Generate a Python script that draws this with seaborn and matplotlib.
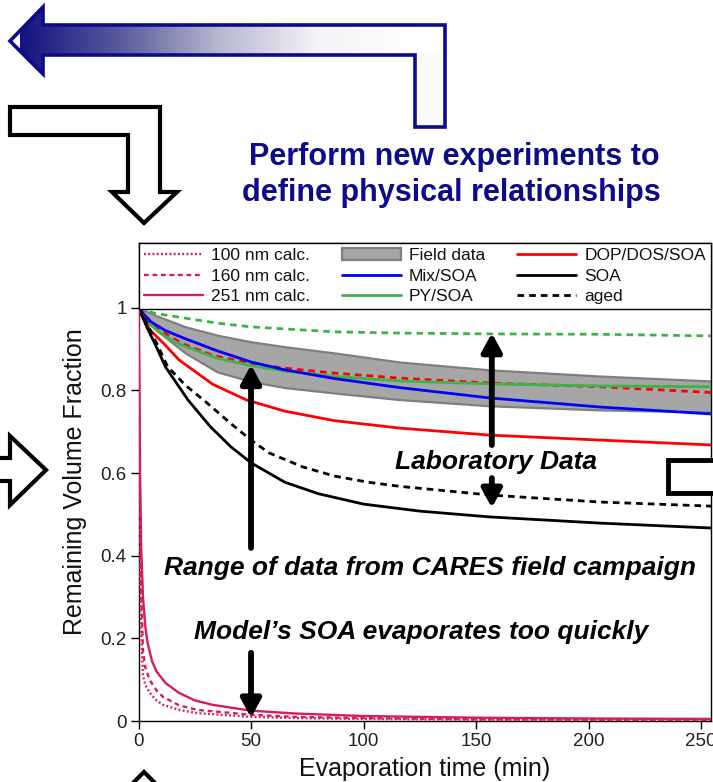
import numpy as np
import pandas as pd
import matplotlib
matplotlib.use("Agg")
import matplotlib.pyplot as plt
import seaborn as sns
from matplotlib.lines import Line2D
from matplotlib.patches import Patch, Polygon, Rectangle
from matplotlib.colors import LinearSegmentedColormap

# ---------------- data ----------------
t_soa = [0, 4, 8, 12, 22, 32, 41, 50, 65, 80, 100, 125, 156, 205, 255]
v_soa = [1, 0.95, 0.905, 0.857, 0.777, 0.712, 0.664, 0.625, 0.578, 0.550, 0.525, 0.508, 0.494, 0.479, 0.467]

t_aged = [0, 4, 8, 13, 21, 30, 41, 50, 58, 73, 87, 102, 116, 156, 205, 255]
v_aged = [1, 0.96, 0.915, 0.857, 0.812, 0.772, 0.72, 0.68, 0.649, 0.615, 0.593, 0.578, 0.568, 0.547, 0.530, 0.520]

t_dop = [0, 5, 11, 18, 33, 48, 65, 87, 116, 156, 205, 255]
v_dop = [1, 0.947, 0.915, 0.874, 0.815, 0.777, 0.750, 0.727, 0.709, 0.692, 0.680, 0.668]

t_dop_aged = [0, 5, 11, 20, 33, 50, 65, 87, 116, 156, 205, 255]
v_dop_aged = [1, 0.97, 0.94, 0.912, 0.885, 0.865, 0.854, 0.842, 0.830, 0.818, 0.809, 0.795]

t_mix = [0, 5, 12, 20, 35, 50, 65, 87, 116, 156, 205, 255]
v_mix = [1, 0.968, 0.945, 0.927, 0.896, 0.869, 0.850, 0.829, 0.807, 0.782, 0.760, 0.743]

t_py = [0, 5, 12, 20, 35, 50, 65, 87, 116, 156, 205, 255]
v_py = [1, 0.96, 0.93, 0.908, 0.878, 0.860, 0.847, 0.834, 0.823, 0.816, 0.811, 0.809]

t_py_aged = [0, 7, 21, 35, 50, 65, 87, 116, 156, 205, 255]
v_py_aged = [1, 0.987, 0.975, 0.963, 0.954, 0.949, 0.942, 0.939, 0.937, 0.936, 0.932]

t_field = [0, 7, 21, 35, 50, 65, 87, 116, 156, 205, 255]
v_field_hi = [1, 0.983, 0.954, 0.934, 0.918, 0.906, 0.891, 0.869, 0.850, 0.835, 0.823]
v_field_lo = [1, 0.95, 0.89, 0.845, 0.822, 0.807, 0.794, 0.778, 0.763, 0.753, 0.748]

t_251 = [0, 0.3, 0.7, 1.2, 2, 3, 4, 6, 8, 12, 18, 25, 33, 50, 70, 100, 150, 200, 255]
v_251 = [1, 0.85, 0.6, 0.42, 0.3, 0.23, 0.19, 0.145, 0.12, 0.092, 0.068, 0.05, 0.039, 0.025, 0.018, 0.012, 0.008, 0.006, 0.005]
t_160 = [0, 0.3, 0.6, 1, 2, 3, 5, 8, 11, 18, 26, 50, 70, 100, 150, 200, 255]
v_160 = [1, 0.8, 0.55, 0.35, 0.17, 0.13, 0.099, 0.074, 0.058, 0.038, 0.027, 0.015, 0.010, 0.007, 0.004, 0.003, 0.002]
t_100 = [0, 0.2, 0.5, 1, 2, 3, 5, 8, 11, 18, 26, 50, 70, 100, 150, 200, 255]
v_100 = [1, 0.75, 0.45, 0.25, 0.11, 0.088, 0.068, 0.05, 0.039, 0.027, 0.019, 0.010, 0.007, 0.005, 0.003, 0.002, 0.002]

x_ticks = [0, 50, 100, 150, 200, 250]
y_ticks = [0, 0.2, 0.4, 0.6, 0.8, 1]
y_tick_labels = ["0", "0.2", "0.4", "0.6", "0.8", "1"]

# ---------------- style ----------------
sns.set_theme(style="ticks")
plt.rcParams["font.family"] = ["Liberation Sans", "DejaVu Sans"]

W, H = 713, 782
fig = plt.figure(figsize=(W / 100, H / 100), dpi=100)

def fr(x0, y0, x1, y1):
    return [x0 / W, 1 - y1 / H, (x1 - x0) / W, (y1 - y0) / H]

ax = fig.add_axes(fr(138.5, 243, 711, 721))

MAG = "#d81b60"
GREEN = "#3cb44b"
lw = 2.0

ax.fill_between(t_field, v_field_lo, v_field_hi, facecolor="#a6a6a6",
                edgecolor="#7f7f7f", linewidth=1.6, zorder=1)

def line(t, v, color, ls="-", lw=lw, z=3):
    sns.lineplot(x=t, y=v, ax=ax, color=color, linestyle=ls, linewidth=lw,
                 estimator=None, sort=False, zorder=z)

line(t_py_aged, v_py_aged, GREEN, (0, (2.4, 1.8)))
line(t_dop_aged, v_dop_aged, "#ff0000", (0, (2.4, 1.8)))
line(t_py, v_py, GREEN)
line(t_mix, v_mix, "#0000ff")
line(t_dop, v_dop, "#ff0000")
line(t_aged, v_aged, "black", (0, (2.4, 1.8)))
line(t_soa, v_soa, "black")
line(t_100, v_100, MAG, (0, (0.8, 1.0)), 1.7)
line(t_160, v_160, MAG, (0, (2.0, 1.6)), 1.7)
line(t_251, v_251, MAG, "-", 1.7)

ax.set_xlim(0, 254.4)
ax.set_ylim(0, 1.157)
ax.set_xticks(x_ticks)
ax.set_yticks(y_ticks)
ax.set_yticklabels(y_tick_labels)
ax.tick_params(direction="out", length=5.5, width=1, colors="black",
               labelcolor="#222222", labelsize=13.5, pad=3)
for s in ax.spines.values():
    s.set_visible(True)
    s.set_color("black")
    s.set_linewidth(1.0)
ax.set_xlabel("Evaporation time (min)", fontsize=18, color="#111111", labelpad=5)
ax.set_ylabel("Remaining Volume Fraction", fontsize=18, color="#111111", labelpad=10)

# legend
handles = [
    Line2D([], [], color=MAG, lw=1.7, linestyle=(0, (0.8, 1.0))),
    Line2D([], [], color=MAG, lw=1.7, linestyle=(0, (2.0, 1.6))),
    Line2D([], [], color=MAG, lw=1.7),
    Patch(facecolor="#a6a6a6", edgecolor="#7f7f7f", linewidth=1.6),
    Line2D([], [], color="#0000ff", lw=lw),
    Line2D([], [], color=GREEN, lw=lw),
    Line2D([], [], color="#ff0000", lw=lw),
    Line2D([], [], color="black", lw=lw),
    Line2D([], [], color="black", lw=lw, linestyle=(0, (2.4, 1.8))),
]
labels = ["100 nm calc.", "160 nm calc.", "251 nm calc.", "Field data",
          "Mix/SOA", "PY/SOA", "DOP/DOS/SOA", "SOA", "aged"]
leg = ax.legend(handles, labels, ncol=3, loc="upper left", mode="expand",
                bbox_to_anchor=(0, 0, 1, 1), borderaxespad=0, fontsize=12.5,
                frameon=True, fancybox=False, framealpha=1, edgecolor="black",
                handlelength=3.4, handletextpad=0.45, labelspacing=0.3,
                borderpad=0.3, columnspacing=1.0)
leg.get_frame().set_linewidth(1.0)
for txt in leg.get_texts():
    txt.set_color("#111111")

# annotations inside the plot
akw = dict(arrowstyle="-|>,head_length=0.55,head_width=0.3", color="black",
           lw=4.2, mutation_scale=20, shrinkA=0, shrinkB=0)
ax.annotate("", xy=(50, 0.862), xytext=(50, 0.419), arrowprops=akw, zorder=6)
ax.annotate("", xy=(157, 0.939), xytext=(157, 0.668), arrowprops=akw, zorder=6)
ax.annotate("", xy=(157, 0.516), xytext=(157, 0.588), arrowprops=akw, zorder=6)
ax.annotate("", xy=(50, 0.008), xytext=(50, 0.165), arrowprops=akw, zorder=6)

tkw = dict(ha="center", va="center", fontsize=19, fontweight="bold",
           fontstyle="italic", color="black", zorder=7)
ax.text(159, 0.627, "Laboratory Data", **tkw)
ax.text(129.6, 0.370, "Range of data from CARES field campaign", **tkw)
ax.text(125.6, 0.215, "Model\u2019s SOA evaporates too quickly", **tkw)

# ---------------- slide decorations (figure pixel coords) ----------------
ov = fig.add_axes([0, 0, 1, 1], zorder=10)
ov.set_xlim(0, W)
ov.set_ylim(H, 0)
ov.axis("off")
ov.patch.set_visible(False)

NAVY = "#0b0b8c"
blue_arrow = [(10, 41), (43, 7), (43, 25), (445, 25), (445, 127), (415, 127),
              (415, 55), (43, 55), (43, 74)]
cmap = LinearSegmentedColormap.from_list("g", ["#14147f", "#5a5a9c", "#b8b8d0", "#f4f4f8", "#ffffff"])
grad = np.linspace(0, 1, 400)[None, :]
im = ov.imshow(grad, extent=[20, 420, 127, 7], cmap=cmap, aspect="auto", zorder=1)
clip = Polygon(blue_arrow, closed=True, facecolor="none", edgecolor="none",
               transform=ov.transData)
ov.add_patch(clip)
im.set_clip_path(clip)
ov.add_patch(Rectangle((415, 55), 30, 72, facecolor="#fafafa", edgecolor="none", zorder=1.5))
ov.add_patch(Polygon(blue_arrow, closed=True, facecolor="none", edgecolor=NAVY,
                     linewidth=2.6, joinstyle="miter", zorder=2))

black_L = [(10, 107), (160, 107), (160, 192), (177, 192), (144, 223), (112, 192),
           (128, 192), (128, 135), (10, 135)]
ov.add_patch(Polygon(black_L, closed=True, facecolor="white", edgecolor="black",
                     linewidth=3, joinstyle="miter", zorder=2))
left_arrow = [(-10, 458), (10, 458), (10, 436), (46, 470), (10, 505), (10, 481), (-10, 481)]
ov.add_patch(Polygon(left_arrow, closed=True, facecolor="white", edgecolor="black",
                     linewidth=3, joinstyle="miter", zorder=2))
ov.add_patch(Rectangle((668, 460), 60, 33, facecolor="white", edgecolor="black",
                       linewidth=3.5, zorder=2))
bottom_arrow = [(144, 772), (172, 800), (116, 800)]
ov.add_patch(Polygon(bottom_arrow, closed=True, facecolor="white", edgecolor="black",
                     linewidth=3, joinstyle="miter", zorder=2))
ov.set_xlim(0, W)
ov.set_ylim(H, 0)

ov.text(454, 157, "Perform new experiments to", ha="center", va="center",
        fontsize=22, fontweight="bold", color=NAVY)
ov.text(451, 193, "define physical relationships", ha="center", va="center",
        fontsize=22, fontweight="bold", color=NAVY)

fig.savefig("out.png", dpi=100)
